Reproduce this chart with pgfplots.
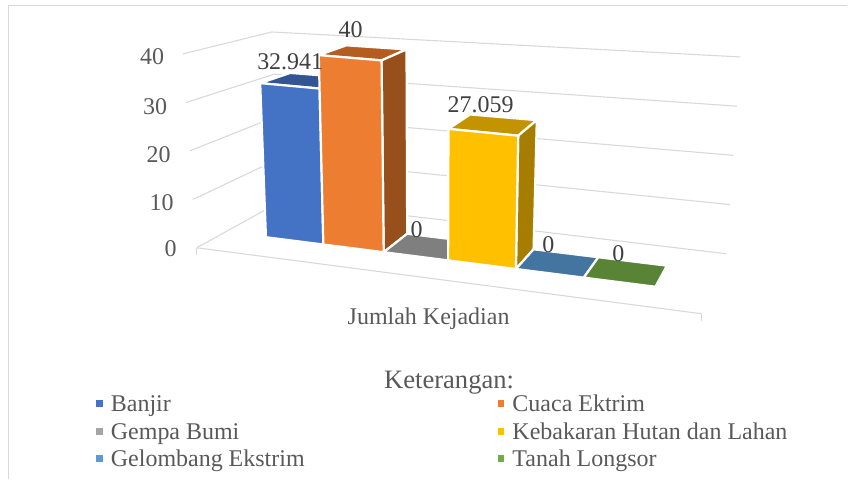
\documentclass[border=0pt]{standalone}
\usepackage{pgfplots}
\pgfplotsset{compat=1.18}
\usepackage{fontspec}
\setmainfont{Liberation Serif}
\definecolor{txt}{HTML}{595959}
\definecolor{lbl}{HTML}{404040}
\definecolor{gridc}{HTML}{D9D9D9}
\definecolor{cA}{HTML}{4472C4}\definecolor{cAt}{HTML}{335593}\definecolor{cAs}{HTML}{2A4A80}
\definecolor{cB}{HTML}{ED7D31}\definecolor{cBt}{HTML}{B55D21}\definecolor{cBs}{HTML}{97501C}
\definecolor{cC}{HTML}{A5A5A5}\definecolor{cCt}{HTML}{7F7F7F}\definecolor{cCs}{HTML}{6B6B6B}
\definecolor{cD}{HTML}{FFC000}\definecolor{cDt}{HTML}{C39400}\definecolor{cDs}{HTML}{A67D00}
\definecolor{cE}{HTML}{5B9BD5}\definecolor{cEt}{HTML}{4474A0}\definecolor{cEs}{HTML}{3A6288}
\definecolor{cF}{HTML}{70AD47}\definecolor{cFt}{HTML}{5A8435}\definecolor{cFs}{HTML}{4A6E2C}
\newcommand\xoff{0}
% box corners: trilinear map of category position u, depth d, value v to the picture
\pgfplotsset{
  table/proj/.style={row sep=\\,
    x expr={(1-\thisrow{v}/40)*((1-\thisrow{d})*((1-\thisrow{u})*197+\thisrow{u}*702)+\thisrow{d}*((1-\thisrow{u})*282+\thisrow{u}*727))
           +(\thisrow{v}/40)*((1-\thisrow{d})*((1-\thisrow{u})*(183+\xoff)+\thisrow{u}*712)+\thisrow{d}*((1-\thisrow{u})*(272+\xoff)+\thisrow{u}*741))},
    y expr={(1-\thisrow{v}/40)*((1-\thisrow{d})*((1-\thisrow{u})*248+\thisrow{u}*314)+\thisrow{d}*((1-\thisrow{u})*201+\thisrow{u}*254))
           +(\thisrow{v}/40)*((1-\thisrow{d})*((1-\thisrow{u})*54+\thisrow{u}*105)+\thisrow{d}*((1-\thisrow{u})*32+\thisrow{u}*57))}},
  face/.style={fill=#1,draw=white,line width=2.2pt,line join=miter,mark=none,forget plot},
  gl/.style={draw=gridc,line width=1.1pt,mark=none,forget plot}
}
\tikzset{
  tick/.style={anchor=base east,text=txt,inner sep=0pt,font=\fontsize{24}{28}\selectfont},
  dlab/.style={anchor=base,text=lbl,inner sep=0pt,font=\fontsize{24}{28}\selectfont},
  ttl/.style={anchor=base,text=txt,inner sep=0pt,font=\fontsize{24}{28}\selectfont}
}
% #1 u-left, #2 u-right, #3 value, #4 colour stem
\newcommand\barfaces[4]{%
  \addplot[face=#4t] table[proj]{u d v\\ #1 .335 #3\\ #2 .335 #3\\ #2 .695 #3\\ #1 .695 #3\\ #1 .335 #3\\};
  \addplot[face=#4s] table[proj]{u d v\\ #2 .335 0\\ #2 .695 0\\ #2 .695 #3\\ #2 .335 #3\\ #2 .335 0\\};
  \addplot[face=#4] table[proj]{u d v\\ #1 .335 0\\ #2 .335 0\\ #2 .335 #3\\ #1 .335 #3\\ #1 .335 0\\};
}
\newcommand\flatbar[4]{%
  \addplot[face=#4t] table[proj]{u d v\\ #1 .335 #3\\ #2 .335 #3\\ #2 .695 #3\\ #1 .695 #3\\ #1 .335 #3\\};
}
\newcommand\gridlevel[1]{%
  \addplot[gl] table[proj]{u d v\\ 0 0 #1\\ 0 1 #1\\ 1 1 #1\\};
}
\begin{document}
\begin{tikzpicture}
\begin{axis}[
  width=848pt,height=479pt,scale only axis,
  xmin=0,xmax=848,ymin=0,ymax=479,y dir=reverse,
  hide axis,clip=false,
  legend columns=2,
  legend cell align=left,
  legend image code/.code={\path[#1,draw=none] (0pt,1pt) rectangle (7pt,8pt);},
  legend style={at={(axis cs:96,395)},anchor=north west,draw=none,fill=none,
    text=txt,inner sep=0pt,outer sep=0pt,
    font=\fontsize{24}{28}\selectfont,
    row sep=0pt,
    nodes={inner sep=0pt,text height=17pt,text depth=10.5pt},
    /tikz/every odd column/.append style={column sep=8pt},
    /tikz/every even column/.append style={column sep=193pt}},
]
% chart frame
\addplot[draw=gridc,line width=1.6pt,mark=none,forget plot] coordinates {(8.5,479) (8.5,5.5) (848,5.5)};
% value grid
\gridlevel{0}\gridlevel{10}\gridlevel{20}\gridlevel{30}\gridlevel{40}
% floor front edge and end ticks
\addplot[gl] table[proj]{u d v\\ 0 0 0\\ 1 0 0\\};
\addplot[gl] coordinates {(197,248) (197,255)};
\addplot[gl] coordinates {(702,314) (702,321)};
% bars
\renewcommand\xoff{4}
\barfaces{.084}{.2025}{32.941}{cA}
\barfaces{.2025}{.327}{40}{cB}
\flatbar{.327}{.46}{0}{cC}
\barfaces{.46}{.6}{27.059}{cD}
\flatbar{.6}{.74}{0}{cE}
\flatbar{.74}{.888}{0}{cF}
% legend
\addlegendimage{fill=cA}\addlegendentry{Banjir}
\addlegendimage{fill=cB}\addlegendentry{Cuaca Ektrim}
\addlegendimage{fill=cC}\addlegendentry{Gempa Bumi}
\addlegendimage{fill=cD}\addlegendentry{Kebakaran Hutan dan Lahan}
\addlegendimage{fill=cE}\addlegendentry{Gelombang Ekstrim}
\addlegendimage{fill=cF}\addlegendentry{Tanah Longsor}
% value axis labels
\node[tick] at (axis cs:164.5,65) {40};
\node[tick] at (axis cs:167.5,115) {30};
\node[tick] at (axis cs:171,163) {20};
\node[tick] at (axis cs:174,211) {10};
\node[tick] at (axis cs:177,257) {0};
% data labels
\node[dlab] at (axis cs:290.5,70) {32.941};
\node[dlab] at (axis cs:351,38) {40};
\node[dlab] at (axis cs:417,238) {0};
\node[dlab] at (axis cs:481,113) {27.059};
\node[dlab] at (axis cs:549,253) {0};
\node[dlab] at (axis cs:619,262) {0};
% axis and legend titles
\node[ttl] at (axis cs:429,325) {Jumlah Kejadian};
\node[ttl,font=\fontsize{26.6}{30}\selectfont] at (axis cs:449.5,389) {Keterangan:};
\useasboundingbox (axis cs:0,0) rectangle (axis cs:848,479);
\end{axis}
\end{tikzpicture}
\end{document}
